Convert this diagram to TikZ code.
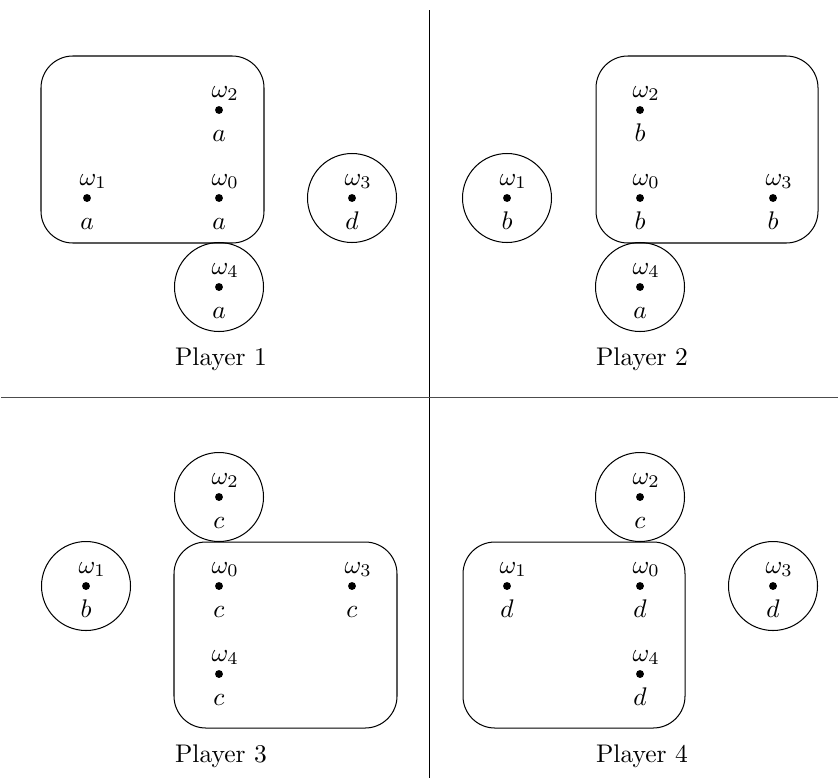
\documentclass[tikz,border=0pt]{standalone}
\usetikzlibrary{calc}
\newcommand\wstate[5]{%
  \node[dotpt] (#1) at (#2,#3) {};
  \node[om] (#1w) at ($(#1)+(-8,-13)$) {$\omega_{#4}$};
  \node[val] (#1v) at ($(#1)+(0,31)$) {$#5$};}
\begin{document}
\begin{tikzpicture}[x=0.3922pt,y=-0.3922pt,
  dotpt/.style={circle,fill=black,inner sep=0pt,minimum size=3.1pt},
  om/.style={anchor=base west,inner sep=0pt},
  val/.style={anchor=base,inner sep=0pt},
  region/.style={draw,line width=0.4pt,rounded corners=12.5pt},
  single/.style={draw,line width=0.4pt},
  sep/.style={draw,line width=0.35pt},
  lbl/.style={anchor=base,inner sep=0pt}]
\useasboundingbox (0,0) rectangle (838,778);
% separators
\coordinate (vt) at (429,10);
\coordinate (vb) at (429,778);
\coordinate (hl) at (1,397);
\coordinate (hr) at (838,397);
\draw[sep] (vt) -- (vb);
\draw[sep,black!70] (hl) -- (hr);
% Player 1
\wstate{aa0}{219}{198}{0}{a}
\wstate{aa1}{87}{198}{1}{a}
\wstate{aa2}{219}{110}{2}{a}
\wstate{aa3}{352}{198}{3}{d}
\wstate{aa4}{219}{287}{4}{a}
\draw[region] (41,56) rectangle (264,243);
\draw[single] (aa3) circle[radius=44.5];
\draw[single] (aa4) circle[radius=44.5];
\node[lbl] (pl1) at (221,365) {Player 1};
% Player 2
\wstate{bb0}{640}{198}{0}{b}
\wstate{bb1}{507}{198}{1}{b}
\wstate{bb2}{640}{110}{2}{b}
\wstate{bb3}{773}{198}{3}{b}
\wstate{bb4}{640}{287}{4}{a}
\draw[region] (596,56) rectangle (818,243);
\draw[single] (bb1) circle[radius=44.5];
\draw[single] (bb4) circle[radius=44.5];
\node[lbl] (pl2) at (642,365) {Player 2};
% Player 3
\wstate{cc0}{219}{586}{0}{c}
\wstate{cc1}{86}{586}{1}{b}
\wstate{cc2}{219}{497}{2}{c}
\wstate{cc3}{352}{586}{3}{c}
\wstate{cc4}{219}{674}{4}{c}
\draw[region] (174,542) rectangle (397,728);
\draw[single] (cc1) circle[radius=44.5];
\draw[single] (cc2) circle[radius=44.5];
\node[lbl] (pl3) at (221,762) {Player 3};
% Player 4
\wstate{dd0}{640}{586}{0}{d}
\wstate{dd1}{507}{586}{1}{d}
\wstate{dd2}{640}{497}{2}{c}
\wstate{dd3}{773}{586}{3}{d}
\wstate{dd4}{640}{674}{4}{d}
\draw[region] (463,542) rectangle (685,728);
\draw[single] (dd2) circle[radius=44.5];
\draw[single] (dd3) circle[radius=44.5];
\node[lbl] (pl4) at (642,762) {Player 4};
\end{tikzpicture}
\end{document}
